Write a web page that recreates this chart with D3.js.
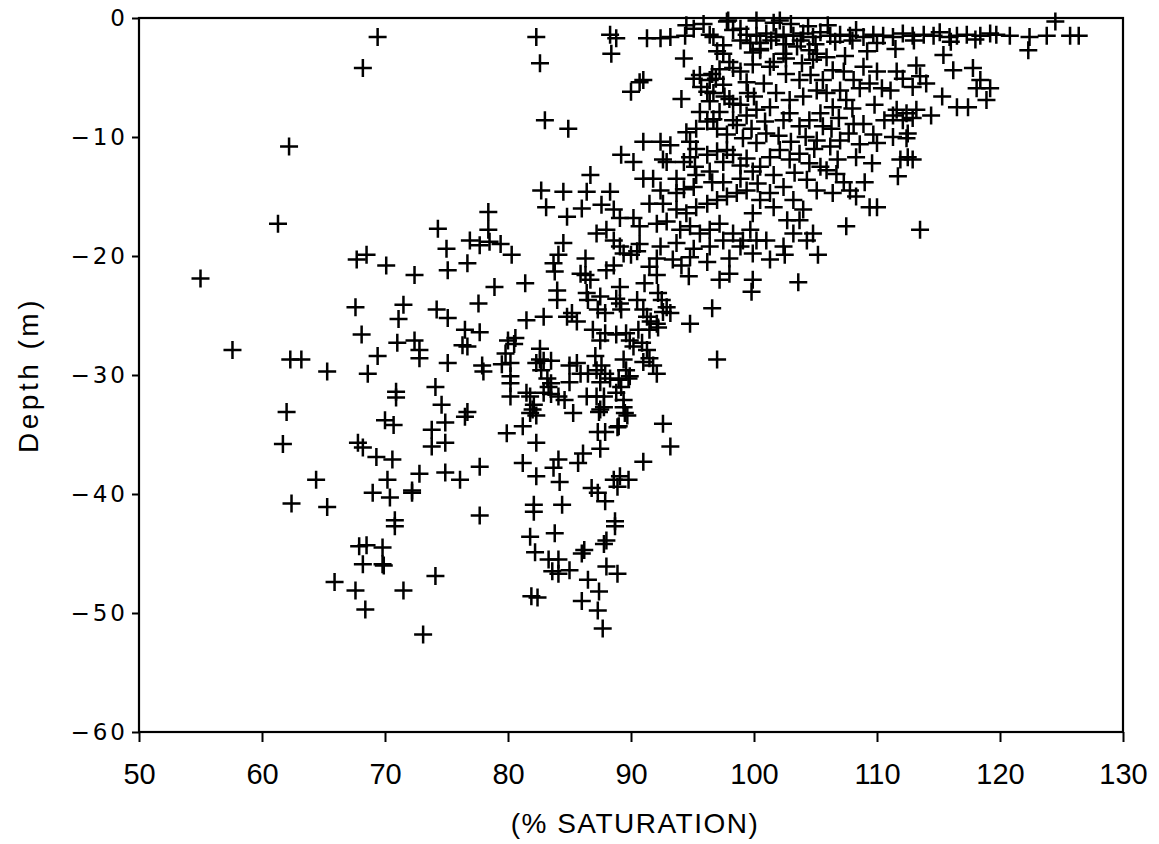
<!DOCTYPE html>
<html>
<head>
<meta charset="utf-8">
<script src="https://cdn.jsdelivr.net/npm/d3@7"></script>
<style>
  body { margin: 0; background: #fff; }
  svg { display: block; }
</style>
</head>
<body>
<svg width="1159" height="844"></svg>
<script>
// ticks
var xTicks = [50, 60, 70, 80, 90, 100, 110, 120, 130];
var yTicks = [0, -10, -20, -30, -40, -50, -60];

// [saturation %, depth m], grouped roughly by area
var sparseUpperLeft = [
  [69.4,-1.6],[68.2,-4.2],[62.2,-10.8],[61.3,-17.3],[78.4,-16.3],[74.3,-17.7],[78.4,-17.8],
  [76.9,-18.7],[77.7,-19.1],[75.0,-19.4],[78.5,-18.8],[79.4,-19.0]
];

var upperMiddle = [
  [82.3,-1.6],[82.6,-3.8],[88.3,-1.4],[88.8,-1.7],[88.4,-3.0],[90.0,-6.2],[90.7,-5.4],[83.0,-8.6],
  [84.9,-9.3],[89.2,-11.5],[90.2,-12.1],[86.7,-13.2],[82.7,-14.5],[84.5,-14.6],[86.4,-14.6],
  [88.3,-14.6],[83.1,-15.9],[86.0,-16.0],[87.6,-15.7],[84.8,-16.7],[88.6,-16.1],[89.1,-16.8],
  [84.5,-18.9],[87.2,-18.1],[88.0,-17.8],[88.6,-18.7],[89.1,-19.2],[90.7,-19.0],[90.2,-16.8],
  [90.7,-17.5]
];

var upperCore = [
  [91.3,-1.7],[92.4,-1.7],[93.2,-1.6],[94.5,-0.6],[95.1,-0.9],[95.9,-0.5],[96.4,-1.4],[97.5,-2.3],
  [97.8,-0.3],[97.0,-2.8],[98.9,-0.9],[99.4,-1.4],[94.3,-3.4],[91.0,-5.2],[95.1,-5.1],[95.6,-4.8],
  [96.4,-5.2],[96.9,-5.1],[97.5,-5.6],[98.3,-4.2],[98.9,-4.5],[99.4,-5.4],[94.1,-6.8],[96.2,-6.2],
  [96.4,-7.0],[97.2,-7.9],[98.0,-6.8],[98.9,-7.3],[99.4,-8.2],[95.6,-7.9],[96.2,-8.7],[95.3,-9.3],
  [94.5,-9.6],[97.0,-9.3],[97.8,-9.8],[98.6,-9.0],[99.1,-10.1],[91.0,-10.4],[92.4,-10.4],[93.2,-10.7],
  [94.8,-10.4],[95.3,-11.0],[96.2,-11.5],[97.0,-11.2],[97.5,-12.1],[98.3,-11.5],[98.9,-12.4],
  [99.4,-11.8],[92.9,-12.1],[94.3,-12.1],[91.0,-13.5],[91.8,-13.5],[93.7,-13.5],[95.3,-13.2],
  [96.4,-12.9],[97.5,-13.8],[98.9,-13.5],[94.4,-1.5],[96.7,-1.6],[97.5,-3.0],[96.6,-4.7],[96.7,-8.5],
  [98.3,-8.6],[94.8,-11.7],[95.2,-12.5],[97.8,-11.1],[92.6,-11.9],[96.6,-13.8],[98.3,-1.0],
  [98.9,-1.9],[99.7,-2.1],[97.9,-0.2],[95.7,-5.8],[96.7,-6.3],[97.6,-6.6],[98.3,-7.2],
  [92.4,-14.5],[93.7,-14.7],[94.3,-14.4],[95.1,-14.2],[91.5,-15.6],[92.6,-15.6],[93.7,-16.1],
  [94.5,-16.4],[95.3,-15.9],[96.2,-15.6],[97.0,-15.3],[97.8,-15.0],[98.6,-14.7],[99.4,-14.5],
  [92.1,-17.3],[92.9,-17.1],[94.0,-17.8],[94.8,-17.5],[95.6,-18.1],[96.4,-17.8],[97.2,-17.3],
  [98.3,-18.1],[99.1,-18.7],[99.7,-17.8],[92.4,-19.2],[93.7,-18.9],[95.1,-19.4],[96.4,-19.2],
  [97.5,-18.7],[98.9,-19.2],[99.9,-2.9],[99.9,-3.9],[99.5,-6.3],[98.0,-3.7],[97.2,-4.3],
  [99.8,-9.3],[99.9,-12.9]
];

var surfaceRow = [
  [100.2,-1.5],[101.0,-1.3],[101.8,-1.6],[102.4,-1.4],[103.2,-1.5],[104.0,-1.3],[104.8,-1.6],
  [105.4,-1.2],[106.2,-1.5],[107.0,-1.4],[107.8,-1.5],[108.3,-1.0],[108.9,-1.6],[109.7,-1.4],
  [110.5,-1.5],[111.3,-1.6],[112.1,-1.3],[112.9,-1.5],[113.8,-1.4],[114.6,-1.5],[115.1,-1.2],
  [115.9,-1.6],[116.5,-1.5],[117.3,-1.4],[118.4,-1.5],[119.2,-1.3],[119.7,-1.4],[120.8,-1.5],
  [122.4,-1.6],[123.8,-1.5],[125.7,-1.5],[126.4,-1.5],[124.5,-0.3],[122.3,-2.7],
  [100.2,-0.2],[101.6,-0.4],[102.1,-0.2],[103.0,-0.5],[104.4,-0.7],[106.0,-0.6],
  [100.5,-2.1],[101.4,-1.9],[102.6,-2.2],[103.8,-1.9],[105.0,-2.2],[106.6,-2.0],[108.0,-1.9],
  [110.0,-2.1],[113.0,-1.9],[116.0,-2.0],[118.0,-1.8]
];

var upperRight = [
  [100.5,-2.7],[102.4,-3.0],[103.5,-2.4],[104.5,-2.7],[105.1,-3.0],[105.9,-3.3],[115.4,-3.1],
  [116.2,-4.4],[117.8,-4.2],[118.4,-5.2],[119.2,-5.9],[118.1,-5.9],[118.9,-6.9],[117.4,-7.5],
  [116.5,-7.5],[115.3,-6.6],[113.2,-4.0],[113.5,-4.9],[114.0,-5.5],[112.9,-5.8],[111.6,-4.5],
  [112.1,-5.1],[111.1,-6.1],[110.0,-4.5],[108.9,-4.1],[108.1,-5.2],[107.3,-4.5],[106.4,-4.4],
  [108.6,-5.9],[109.4,-5.5],[110.4,-5.9],[107.0,-6.1],[107.5,-6.9],[106.4,-7.5],[105.9,-6.3],
  [111.6,-7.7],[112.4,-8.0],[113.2,-7.7],[112.9,-8.4],[114.4,-8.2],[111.3,-8.2],[112.1,-8.6],
  [112.5,-9.7],[111.3,-10.0],[112.4,-10.1],[110.0,-10.5],[108.3,-11.7],[111.9,-11.9],[112.5,-11.7],
  [112.9,-11.9],[111.7,-13.3],[113.5,-17.8],[107.5,-17.5],[108.1,-8.9],[108.9,-8.9],[107.7,-9.7],
  [105.4,-8.0],[105.6,-9.1],[104.5,-8.6],[103.7,-9.1],[102.9,-8.0],[105.1,-10.3],[106.2,-10.8],
  [107.0,-10.3],[103.7,-11.4],[104.5,-12.2],[105.4,-12.5],[105.9,-12.8],[106.7,-13.1],[107.3,-13.8],
  [102.9,-11.9],[102.1,-11.1],[101.3,-11.7],[100.5,-12.5],[104.3,-13.6],[105.1,-14.5],[106.4,-14.7],
  [107.8,-14.5],[108.3,-15.0],[109.4,-15.9],[110.0,-15.9],[103.2,-15.3],[104.0,-16.1],[103.7,-17.0],
  [104.8,-18.1],[104.3,-18.7],[102.4,-14.2],[101.3,-14.7],[100.5,-15.3],[99.9,-16.4],[100.2,-18.7],
  [101.3,-4.1],[102.6,-4.7],[103.7,-5.2],[100.8,-5.5],[101.8,-6.3],[102.9,-6.9],[104.0,-6.6],
  [105.1,-6.1],[100.2,-7.7],[101.3,-7.5],[102.4,-8.6],[101.0,-9.7],[100.2,-10.5],[101.0,-18.7],
  [102.7,-17.0],[101.6,-15.9],[102.4,-19.2],[103.2,-18.1],
  [100.0,-6.6],[100.9,-8.7],[102.0,-9.9],[103.0,-10.4],[104.2,-10.0],[106.3,-9.3],[104.9,-11.0],
  [103.3,-13.0],[101.6,-13.2],[100.3,-13.9],[106.8,-11.9],[108.6,-10.6],[109.6,-12.2],[109.0,-13.8],
  [108.0,-7.6],[109.8,-7.3],[110.6,-8.6],[109.7,-9.8],[106.9,-8.4],[104.6,-4.8],[105.6,-5.2],
  [103.9,-3.8],[100.5,-2.6],[102.6,-3.4],[101.6,-3.7],[104.8,-3.5],[107.4,-3.2],[109.2,-2.8],
  [111.5,-2.6]
];

var lowerLeft = [
  [55.0,-21.9],[57.6,-27.9],[62.3,-28.7],[63.2,-28.7],[65.3,-29.7],[62.0,-33.1],[61.7,-35.8],
  [64.4,-38.8],[62.4,-40.8],[65.3,-41.1],[67.7,-20.3],[68.5,-19.9],[70.1,-20.8],[72.4,-21.6],
  [75.1,-21.2],[76.7,-20.6],[67.6,-24.3],[71.5,-24.1],[71.1,-25.3],[74.2,-24.5],[75.1,-25.2],
  [77.6,-24.0],[68.1,-26.6],[71.0,-27.3],[72.4,-27.1],[72.8,-27.9],[72.8,-28.6],[76.5,-26.2],
  [77.7,-26.4],[76.3,-27.5],[76.7,-27.6],[69.4,-28.4],[68.6,-29.9],[75.1,-29.0],[77.9,-29.2],
  [78.0,-29.7],[70.9,-31.4],[70.9,-31.9],[74.1,-31.0],[74.6,-32.5],[76.7,-33.1],[76.5,-33.5],
  [70.0,-33.8],[70.7,-34.2],[73.8,-34.6],[74.9,-34.0],[74.9,-35.7],[73.8,-36.0],[67.8,-35.7],
  [68.2,-36.1],[69.3,-36.9],[70.6,-37.1],[77.7,-37.7],[74.9,-38.2],[76.1,-38.8],[72.8,-38.3],
  [70.2,-38.8],[69.0,-39.9],[70.4,-40.3],[72.2,-39.7],[72.2,-39.9],[77.7,-41.8],[70.8,-42.2],
  [70.8,-42.7]
];

var lowerCore = [
  [80.3,-19.9],[78.9,-22.6],[81.4,-22.3],[83.7,-20.6],[84.1,-19.9],[83.8,-21.3],[86.3,-20.2],
  [85.9,-21.5],[86.3,-21.6],[86.7,-22.0],[84.0,-22.9],[84.0,-23.7],[88.0,-21.2],[88.6,-20.8],
  [89.4,-19.8],[90.0,-19.9],[90.5,-19.6],[91.5,-20.9],[92.1,-20.2],[92.1,-21.6],[91.1,-22.3],
  [89.1,-22.6],[88.8,-23.6],[89.1,-24.0],[89.2,-24.5],[87.5,-23.4],[87.3,-24.5],[87.9,-24.8],
  [86.4,-23.1],[86.5,-23.7],[84.8,-25.1],[85.2,-24.8],[85.6,-25.5],[82.9,-25.1],[81.5,-25.4],
  [90.5,-23.7],[91.0,-24.5],[91.3,-25.1],[92.2,-23.1],[92.5,-23.7],[92.9,-24.3],[92.6,-24.7],
  [93.2,-24.8],[92.1,-25.7],[91.5,-26.2],[93.4,-20.3],[94.1,-20.8],[94.7,-21.7],[94.8,-20.1],
  [96.2,-20.5],[97.2,-22.0],[98.0,-20.2],[98.0,-21.5],[96.6,-24.4],[94.8,-25.7],[99.9,-19.8],
  [101.3,-20.3],[99.9,-22.0],[99.8,-23.0],[102.5,-19.9],[103.6,-22.2],[105.2,-19.9],[97.0,-28.7],
  [86.9,-26.2],[87.5,-27.1],[87.9,-26.5],[88.8,-26.6],[89.6,-26.5],[89.9,-27.1],[90.2,-27.6],
  [90.6,-26.2],[90.9,-27.3],[91.3,-27.9],[91.5,-28.6],[91.8,-29.2],[92.1,-29.9],[89.4,-28.7],
  [89.6,-29.6],[89.9,-30.1],[87.6,-29.2],[87.9,-29.9],[87.5,-30.6],[88.3,-30.3],[89.0,-30.4],
  [89.2,-31.0],[85.9,-29.9],[86.5,-29.9],[87.2,-29.6],[85.0,-29.2],[85.6,-29.0],[85.0,-30.6],
  [82.6,-28.7],[82.3,-29.0],[82.7,-29.6],[80.2,-29.0],[79.8,-28.2],[80.2,-30.1],[80.2,-30.7],
  [80.2,-31.8],[80.6,-26.9],[80.0,-27.1],[82.6,-27.8],[81.5,-31.5],[81.8,-31.8],[82.9,-31.5],
  [83.3,-31.0],[84.1,-31.8],[84.6,-32.1],[86.4,-31.8],[87.2,-31.8],[87.8,-31.8],[88.8,-31.5],
  [89.4,-32.1],[89.4,-32.7],[89.5,-33.2],[82.1,-32.5],[81.8,-33.2],[85.3,-33.2],[87.5,-32.9],
  [87.8,-32.7],[87.3,-34.8],[87.9,-34.8],[89.0,-34.3],[89.7,-33.4],[79.9,-34.9],[81.2,-34.3],
  [82.3,-35.7],[92.6,-34.1],[93.2,-36.0],[87.5,-36.2],[91.0,-37.3],[81.2,-37.4],[82.3,-38.5],
  [84.1,-37.1],[83.7,-37.8],[84.2,-39.0],[85.7,-37.4],[86.1,-36.6],[86.8,-39.5],[87.3,-39.9],
  [87.9,-40.6],[88.6,-38.8],[89.1,-38.5],[89.8,-38.8],[82.1,-40.9],[84.4,-40.9],[88.7,-42.3],
  [88.7,-42.7],[81.8,-43.6],[83.8,-43.3],[87.8,-44.2],
  [80.5,-27.4],[82.9,-28.8],[83.5,-28.8],[79.5,-29.1],[82.0,-32.9],[82.3,-33.4],[83.5,-31.6],
  [83.2,-30.3],[83.5,-30.7],[87.1,-28.4],[89.8,-30.3],[87.4,-33.1],[88.9,-34.4],[82.1,-41.5],
  [88.9,-39.4],[91.6,-25.5],[92.2,-26.0],[91.0,-28.9]
];

var deepest = [
  [67.9,-44.4],[68.5,-44.3],[69.8,-44.5],[68.2,-45.9],[69.8,-45.9],[69.9,-46.0],[65.9,-47.4],
  [67.6,-48.1],[68.4,-49.7],[71.5,-48.1],[74.1,-46.9],[73.1,-51.8],[82.2,-44.9],[83.3,-45.5],
  [84.1,-45.5],[83.6,-46.5],[84.1,-46.7],[85.0,-46.4],[86.0,-45.0],[86.2,-44.7],[88.0,-43.9],
  [88.0,-46.1],[88.9,-46.7],[86.5,-47.2],[87.4,-48.2],[81.9,-48.6],[82.4,-48.7],[86.0,-49.0],
  [87.3,-49.8],[87.7,-51.3]
];

document.addEventListener("DOMContentLoaded", function () {

  var points = [].concat(sparseUpperLeft, upperMiddle, upperCore, surfaceRow,
    upperRight, lowerLeft, lowerCore, deepest);

  var svg = d3.select("svg");
  var plotLeft = 139, plotRight = 1123, plotTop = 18, plotBottom = 732;

  var xScale = d3.scaleLinear().domain([50, 130]).range([plotLeft, plotRight]);
  var yScale = d3.scaleLinear().domain([-60, 0]).range([plotBottom, plotTop]);

  // frame
  svg.append("rect")
    .attr("x", plotLeft).attr("y", plotTop)
    .attr("width", plotRight - plotLeft).attr("height", plotBottom - plotTop)
    .attr("fill", "none").attr("stroke", "#000").attr("stroke-width", 2.2);

  var xAxis = d3.axisBottom(xScale).tickValues(xTicks).tickSize(10).tickPadding(21)
    .tickFormat(d3.format("d"));
  var xAxisG = svg.append("g").attr("transform", "translate(0," + plotBottom + ")").call(xAxis);
  xAxisG.select(".domain").remove();
  xAxisG.selectAll("line").attr("stroke-width", 2);
  xAxisG.selectAll("text")
    .attr("font-family", "Liberation Sans, Arial, sans-serif")
    .attr("font-size", 29).attr("fill", "#000");

  var yAxis = d3.axisLeft(yScale).tickValues(yTicks).tickSize(7).tickPadding(4);
  var yAxisG = svg.append("g").attr("transform", "translate(" + plotLeft + ",0)").call(yAxis);
  yAxisG.select(".domain").remove();
  yAxisG.selectAll("line").attr("stroke-width", 2);
  yAxisG.selectAll("text")
    .attr("font-family", "DejaVu Sans, sans-serif")
    .attr("font-size", 23).attr("letter-spacing", 3).attr("fill", "#000");

  // crosses
  var arm = 9;
  var marks = svg.append("g").attr("stroke", "#000").attr("stroke-width", 2.5);
  marks.selectAll("path.pt")
    .data(points)
    .enter()
    .append("path")
    .attr("class", "pt")
    .attr("d", function (d) {
      var cx = xScale(d[0]), cy = yScale(d[1]);
      return "M" + (cx - arm) + "," + cy + "H" + (cx + arm) +
        "M" + cx + "," + (cy - arm) + "V" + (cy + arm);
    });

  // titles
  svg.append("text")
    .attr("x", 635).attr("y", 833)
    .attr("text-anchor", "middle")
    .attr("font-family", "Liberation Sans, Arial, sans-serif")
    .attr("font-size", 28).attr("letter-spacing", 1.5)
    .text("(% SATURATION)");

  svg.append("text")
    .attr("transform", "translate(38,375) rotate(-90)")
    .attr("text-anchor", "middle")
    .attr("font-family", "Liberation Sans, Arial, sans-serif")
    .attr("font-size", 28).attr("letter-spacing", 3.5)
    .text("Depth (m)");
});
</script>
</body>
</html>
